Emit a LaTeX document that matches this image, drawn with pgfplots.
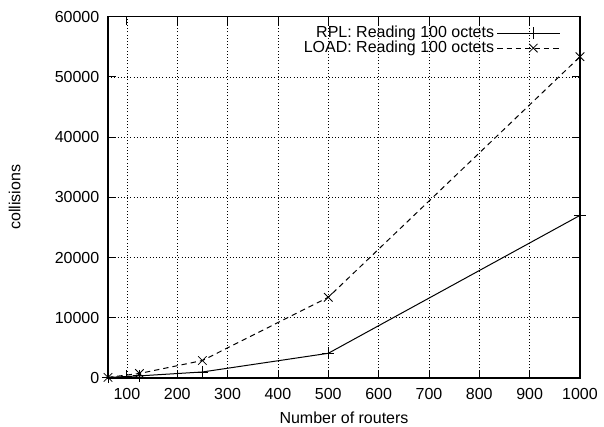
\documentclass[border=0pt]{standalone}
\usepackage{pgfplots}
\pgfplotsset{compat=1.18}
\usepackage{fontspec}
\setmainfont{Liberation Sans}
\begin{document}
\begin{tikzpicture}[x=1pt,y=1pt]
\begin{axis}[
  at={(0,0)}, anchor=south west,
  scale only axis,
  width=354pt, height=271pt,
  xmin=62.5, xmax=1000,
  ymin=0, ymax=60000,
  xtick={100,200,...,1000},
  ytick={0,10000,...,60000},
  scaled ticks=false,
  /pgf/number format/1000 sep={},
  /pgf/number format/assume math mode=true,
  tick align=inside,
  major tick length=6pt,
  tick style={black, line width=0.6pt},
  axis line style={line width=0.9pt},
  grid=major,
  grid style={black, line width=0.5pt, dash pattern=on 0.8pt off 1.6pt},
  ticklabel style={font=\fontsize{12}{14}\selectfont},
  label style={font=\fontsize{12}{14}\selectfont},
  xlabel={Number of routers},
  ylabel={collisions},
  xlabel style={at={(axis description cs:0.5,0)}, anchor=north, yshift=-22pt},
  ylabel style={at={(axis description cs:0,0.5)}, anchor=south, yshift=62pt},
  xticklabel style={yshift=-4pt},
  yticklabel style={xshift=-3pt},
  legend style={draw=none, fill=none, font=\fontsize{12}{14}\selectfont, at={(0.962,0.985)}, anchor=north east, row sep=-3pt, inner sep=1pt},
  legend plot pos=right,
  legend cell align=right,
  legend image code/.code={\path (0pt,0pt) -- (47pt,0pt);\draw[#1, mark repeat=2, mark phase=2] plot coordinates {(7pt,0pt) (27pt,0pt) (47pt,0pt)};},
]
\addplot[black, line width=0.75pt, mark=+, mark size=4.5pt, mark options={solid, line width=0.6pt}] coordinates {
  (62.5,100) (125,350) (250,1000) (500,4100) (1000,27000)
};
\addlegendentry{RPL: Reading 100 octets}
\addplot[black, line width=0.75pt, dash pattern=on 4pt off 3pt, mark=x, mark size=4.5pt, mark options={solid, line width=0.6pt}] coordinates {
  (62.5,100) (125,750) (250,2900) (500,13400) (1000,53350)
};
\addlegendentry{LOAD: Reading 100 octets}
\end{axis}
\pgfresetboundingbox
\path (-81pt,-36.75pt) rectangle (372pt,283.5pt);
\end{tikzpicture}
\end{document}
